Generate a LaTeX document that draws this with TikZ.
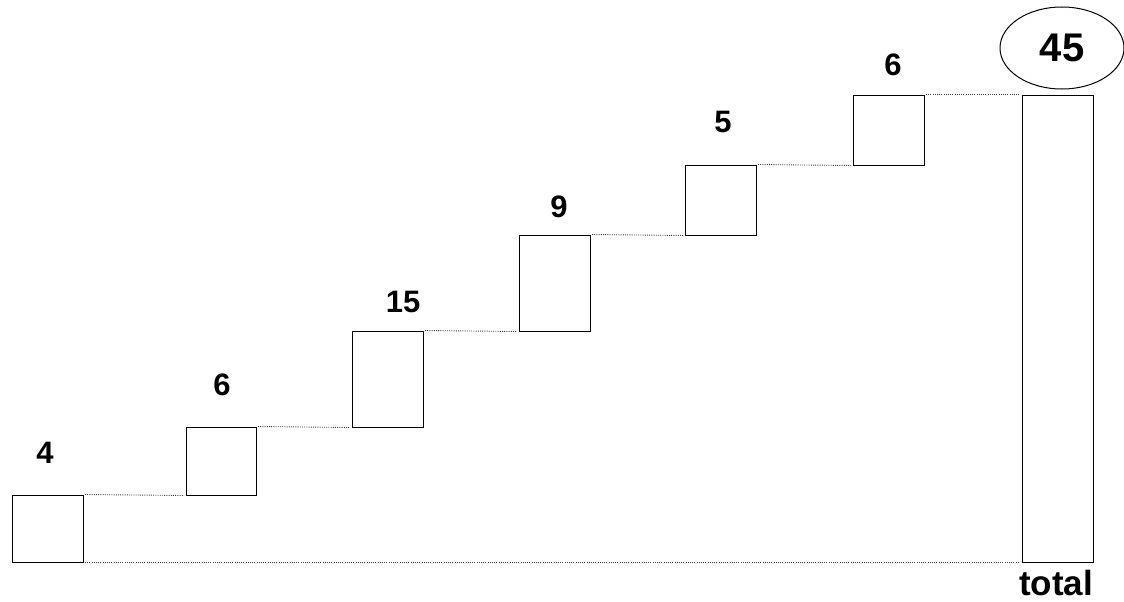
\documentclass[tikz,border=0pt]{standalone}
\usepackage{fontspec}
\setmainfont{Liberation Sans}
\usetikzlibrary{shapes.geometric}
\begin{document}
\begin{tikzpicture}[x=1pt,y=-1pt,
  bar/.style={draw=black, line width=1pt, fill=white, inner sep=0pt},
  link/.style={draw=black!75, line width=0.9pt, dash pattern=on 1pt off 1.2pt},
  val/.style={font=\bfseries\fontsize{31}{31}\selectfont, anchor=base, inner sep=0pt},
  total/.style={draw=black, line width=1pt, ellipse, inner sep=0pt, minimum width=124pt, minimum height=82pt, font=\bfseries\fontsize{40}{40}\selectfont}]
\useasboundingbox (0,0) rectangle (1124,602);
% boxes
\node[bar, minimum width=71pt, minimum height=67pt] (b1) at (47.5,528.5) {};
\node[bar, minimum width=70pt, minimum height=68pt] (b2) at (221,461) {};
\node[bar, minimum width=71pt, minimum height=96pt] (b3) at (387.5,379) {};
\node[bar, minimum width=71pt, minimum height=96pt] (b4) at (554.5,283) {};
\node[bar, minimum width=71pt, minimum height=70pt] (b5) at (720.5,200) {};
\node[bar, minimum width=71pt, minimum height=70pt] (b6) at (888.5,130) {};
\node[bar, minimum width=71pt, minimum height=467pt] (t) at (1057.5,328.5) {};
% connectors
\draw[link] ([xshift=1.5pt]b1.north east) -- ([xshift=-1.5pt]b2.south west);
\draw[link] ([xshift=1.5pt]b2.north east) -- ([xshift=-1.5pt]b3.south west);
\draw[link] ([xshift=1.5pt]b3.north east) -- ([xshift=-1.5pt]b4.south west);
\draw[link] ([xshift=1.5pt]b4.north east) -- ([xshift=-1.5pt]b5.south west);
\draw[link] ([xshift=1.5pt]b5.north east) -- ([xshift=-1.5pt]b6.south west);
\draw[link] ([xshift=1.5pt]b6.north east) -- ([xshift=-1.5pt]t.north west);
\draw[link] ([xshift=1.5pt]b1.south east) -- ([xshift=-1.5pt]t.south west);
% labels
\node[val] (l1) at (45,463) {4};
\node[val] (l2) at (222,395) {6};
\node[val] (l3) at (403,312) {15};
\node[val] (l4) at (559,217) {9};
\node[val] (l5) at (723,132) {5};
\node[val] (l6) at (893,75) {6};
\node[total] (sum) at (1062,48) {45};
\node[font=\bfseries\fontsize{35}{35}\selectfont, anchor=base, inner sep=0pt] (tl) at (1056,595) {total};
\end{tikzpicture}
\end{document}
